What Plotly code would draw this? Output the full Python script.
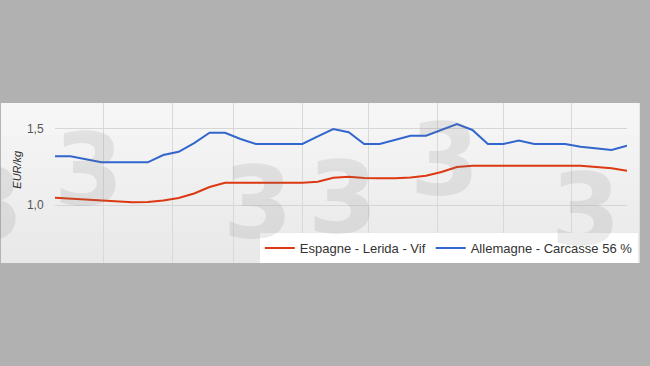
import plotly.graph_objects as go

# ---- data ----
dates = [
    "2014-12-10", "2014-12-17", "2014-12-24", "2014-12-31",
    "2015-01-07", "2015-01-14", "2015-01-21", "2015-01-28",
    "2015-02-04", "2015-02-11", "2015-02-18", "2015-02-25",
    "2015-03-04", "2015-03-11", "2015-03-18", "2015-03-25",
    "2015-04-01", "2015-04-08", "2015-04-15", "2015-04-22", "2015-04-29",
    "2015-05-06", "2015-05-13", "2015-05-20", "2015-05-27",
    "2015-06-03", "2015-06-10", "2015-06-17", "2015-06-24",
    "2015-07-01", "2015-07-08", "2015-07-15", "2015-07-22", "2015-07-29",
    "2015-08-05", "2015-08-12", "2015-08-19", "2015-08-26",
]

espagne = [
    1.048, 1.042, 1.036, 1.029, 1.021, 1.018, 1.020, 1.029,
    1.046, 1.075, 1.117, 1.145, 1.145, 1.145, 1.145, 1.145,
    1.145, 1.152, 1.178, 1.184, 1.176, 1.174, 1.174, 1.179,
    1.191, 1.215, 1.248, 1.256, 1.256, 1.256, 1.256, 1.256,
    1.256, 1.256, 1.256, 1.248, 1.239, 1.224,
]

allemagne = [
    1.317, 1.317, 1.298, 1.278, 1.278, 1.278, 1.278, 1.326,
    1.347, 1.404, 1.471, 1.471, 1.430, 1.398, 1.398, 1.398,
    1.398, 1.447, 1.495, 1.474, 1.398, 1.398, 1.424, 1.452,
    1.452, 1.489, 1.528, 1.489, 1.398, 1.398, 1.420, 1.398,
    1.398, 1.398, 1.380, 1.370, 1.359, 1.387,
]

series_names = ["Espagne - Lerida - Vif", "Allemagne - Carcasse 56 %"]
y_ticks = [1.0, 1.5]
y_ticktext = ["1,0", "1,5"]
y_title = "EUR/kg"

# ---- layout geometry ----
W, H = 650, 366
ML, MR, MT, MB = 55, 13, 103, 103
PW = W - ML - MR
PH = H - MT - MB

def px_x(px):
    return (px - ML) / PW

def px_y(py):
    return (H - MB - py) / PH

fig = go.Figure()
fig.add_trace(go.Scatter(x=dates, y=espagne, mode="lines", name=series_names[0],
                         line=dict(color="#dc3912", width=2)))
fig.add_trace(go.Scatter(x=dates, y=allemagne, mode="lines", name=series_names[1],
                         line=dict(color="#3366cc", width=2)))

# background strip with slight vertical gradient
shapes = []
n_bands = 10
top_c, bot_c = (246, 246, 246), (233, 233, 233)
for k in range(n_bands):
    t = k / (n_bands - 1)
    c = tuple(int(round(top_c[i] + (bot_c[i] - top_c[i]) * t)) for i in range(3))
    y1 = 1 - k / n_bands
    y0 = 1 - (k + 1) / n_bands
    shapes.append(dict(type="rect", xref="paper", yref="paper",
                       x0=px_x(0), x1=px_x(W), y0=y0, y1=y1,
                       fillcolor="rgb(%d,%d,%d)" % c, line=dict(width=0),
                       layer="below"))

# watermark "3" glyphs
annotations = []
for (cx, cy) in [(90, 170), (262, 203), (348, 198), (452, 160), (595, 210), (-12, 205)]:
    annotations.append(dict(text="<b>3</b>", x=px_x(cx), y=px_y(cy), xref="paper", yref="paper",
                            showarrow=False, xanchor="center", yanchor="middle",
                            font=dict(family="DejaVu Sans", size=100, color="rgba(120,120,120,0.15)")))

annotations.append(dict(text="<i>" + y_title + "</i>", x=px_x(16), y=px_y(169),
                        xref="paper", yref="paper", showarrow=False, textangle=-90,
                        xanchor="center", yanchor="middle",
                        font=dict(family="Liberation Sans", size=11, color="#333333")))

y_top = 1.0 + (205 - MT) / 153.4
y_bot = 1.0 - (H - MB - 205) / 153.4

fig.update_layout(
    width=W, height=H,
    margin=dict(l=ML, r=MR, t=MT, b=MB, pad=0),
    paper_bgcolor="#b1b1b1",
    plot_bgcolor="rgba(0,0,0,0)",
    font=dict(family="Liberation Sans", size=12, color="#444444"),
    shapes=shapes,
    annotations=annotations,
    showlegend=True,
    legend=dict(orientation="h", x=px_x(648), xanchor="right", y=-0.0001, yanchor="bottom",
                bgcolor="#ffffff", font=dict(size=13, color="#333333"),
                tracegroupgap=0),
    xaxis=dict(type="date", range=[dates[0], dates[-1]], showticklabels=False,
               tick0="2015-01-01", dtick="M1", showgrid=True, gridcolor="#d9d9d9",
               gridwidth=1, zeroline=False, showline=False, ticks=""),
    yaxis=dict(range=[y_bot, y_top], tickvals=y_ticks, ticktext=y_ticktext,
               showgrid=True, gridcolor="#d6d6d6", gridwidth=1, zeroline=False,
               showline=False, ticks="outside", ticklen=8, tickcolor="rgba(0,0,0,0)",
               tickfont=dict(size=12, color="#555555")),
)

fig.write_html("out.html")
